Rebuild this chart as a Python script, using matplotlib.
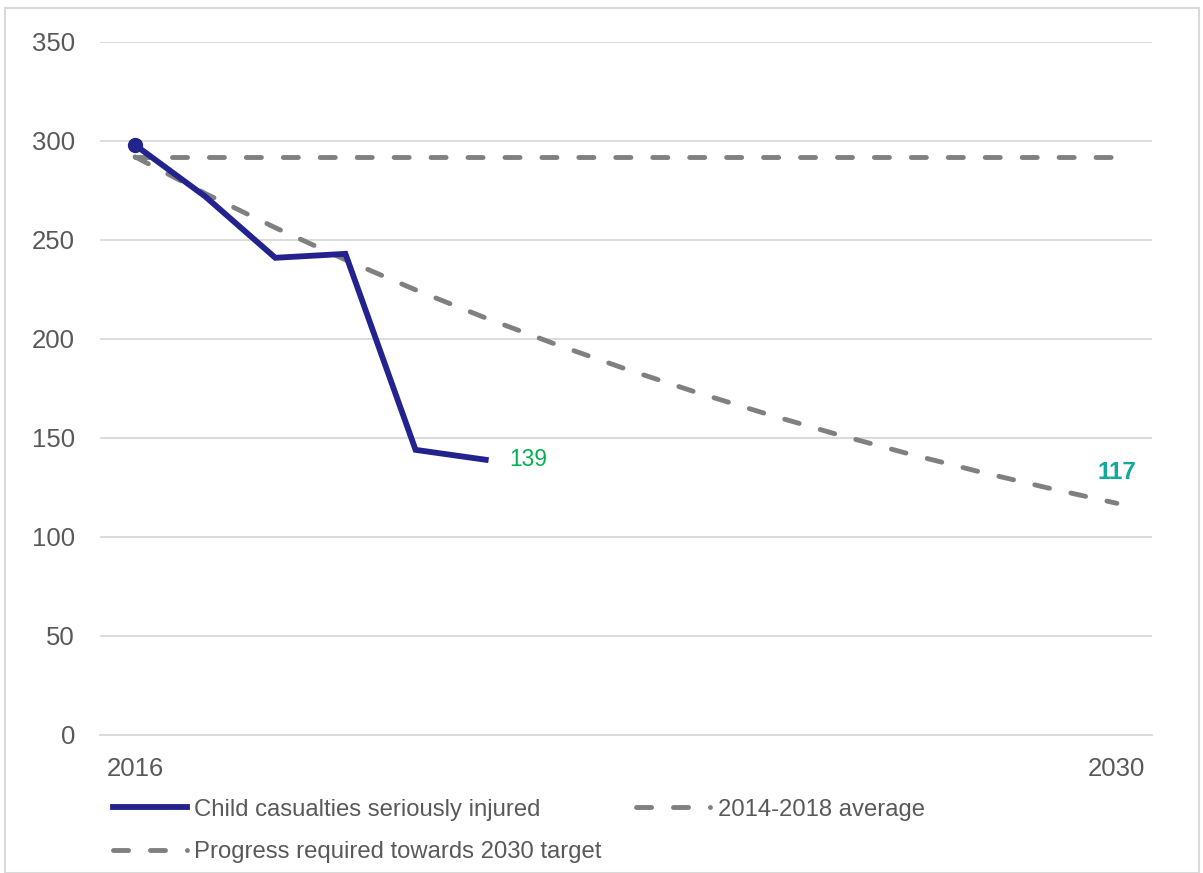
import numpy as np
import matplotlib
matplotlib.use('Agg')
import matplotlib.pyplot as plt
from matplotlib.patches import Rectangle

plt.rcParams['font.family'] = ['Liberation Sans', 'DejaVu Sans']

# --- data ---
years = [str(y) for y in range(2016, 2031)]
shown_ticks = ['2016', '2030']
casualties = [298, 272, 241, 243, 144, 139]            # 2016-2021
average_1418 = [292] * 15                              # flat baseline
progress = [292, 273.5, 256.2, 240.0, 224.8, 210.6, 197.3, 184.8,
            173.1, 162.2, 151.9, 142.3, 133.3, 124.9, 117]
last_label = '139'
target_label = '117'

blue = '#23238E'
grey = '#808080'
txt = '#595959'

fig = plt.figure(figsize=(12.03, 8.73), dpi=100)
ax = fig.add_axes([0.0831, 0.1581, 0.8745, 0.7938])

x = np.arange(len(years))

ax.plot(x, average_1418, color=grey, lw=3.5, dashes=(3.1, 4.5),
        dash_capstyle='round', label='2014-2018 average', zorder=2)
ax.plot(x, progress, color=grey, lw=3.5, dashes=(3.1, 4.5),
        dash_capstyle='round', label='Progress required towards 2030 target', zorder=2)
ax.plot(x[:len(casualties)], casualties, color=blue, lw=4.2,
        solid_joinstyle='miter', label='Child casualties seriously injured', zorder=3)
ax.plot(x[0], casualties[0], 'o', color=blue, ms=10, zorder=4)

ax.text(x[len(casualties) - 1] + 0.33, casualties[-1], last_label,
        color='#00B050', fontsize=16.4, va='center', ha='left')
ax.text(x[-1], progress[-1] + 15.5, target_label, color='#12A89A',
        fontsize=17.5, fontweight='bold', va='center', ha='center')

ax.set_xlim(-0.5, len(years) - 0.5)
ax.set_ylim(0, 350)
ax.set_yticks(np.arange(0, 351, 50))
ax.set_xticks([years.index(t) for t in shown_ticks])
ax.set_xticklabels(shown_ticks)
ax.tick_params(length=0, labelsize=18.5, colors=txt)
ax.tick_params(axis='y', pad=18)
ax.tick_params(axis='x', pad=16)
ax.grid(axis='y', color='#D9D9D9', lw=1.3)
ax.set_axisbelow(True)
for s in ['top', 'right', 'left']:
    ax.spines[s].set_visible(False)
ax.spines['bottom'].set_color('#D9D9D9')
ax.spines['bottom'].set_linewidth(1.3)

h, l = ax.get_legend_handles_labels()
order = [2, 1, 0]
leg = fig.legend([h[i] for i in order], [l[i] for i in order], ncol=2,
                 loc='upper left', bbox_to_anchor=(0.094, 0.085),
                 frameon=False, fontsize=17.2, handlelength=3.1,
                 handletextpad=0.3, columnspacing=1.45, labelspacing=0.85,
                 borderpad=0, borderaxespad=0)
for t in leg.get_texts():
    t.set_color(txt)

fig.patches.append(Rectangle((5 / 1203, 0), 1194 / 1203, 1 - 8 / 873,
                             transform=fig.transFigure, fill=False,
                             edgecolor='#D9D9D9', lw=1.5))

fig.savefig('out.png', dpi=100)
